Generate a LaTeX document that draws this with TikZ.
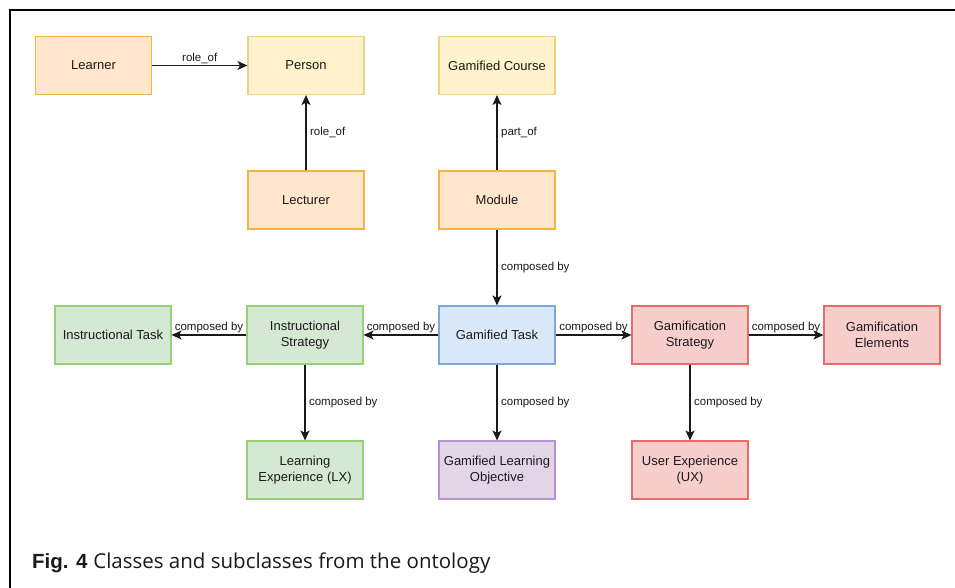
\documentclass[tikz,border=0pt]{standalone}
\usepackage{fontspec}
\setmainfont{Liberation Sans}
\newfontfamily\capfont{Open Sans}
\usetikzlibrary{arrows.meta}

\definecolor{orfill}{HTML}{FFE6CC}
\definecolor{ordraw}{HTML}{F2B443}
\definecolor{yefill}{HTML}{FFF2CC}
\definecolor{yedraw}{HTML}{F0D184}
\definecolor{grfill}{HTML}{D5E8D4}
\definecolor{grdraw}{HTML}{97D077}
\definecolor{blfill}{HTML}{DAE8FC}
\definecolor{bldraw}{HTML}{7EA6E0}
\definecolor{pufill}{HTML}{E1D5E7}
\definecolor{pudraw}{HTML}{B993D0}
\definecolor{refill}{HTML}{F8CECC}
\definecolor{redraw}{HTML}{EA6B66}
\definecolor{ink}{HTML}{1A1A1A}

\tikzset{
  cls/.style={rectangle, minimum width=116pt, minimum height=58pt,
    line width=1.1pt, align=center, text=ink,
    font=\fontsize{13}{15.5}\selectfont, inner sep=2pt},
  orangebox/.style={cls, fill=orfill, draw=ordraw},
  yellowbox/.style={cls, fill=yefill, draw=yedraw},
  greenbox/.style={cls, fill=grfill, draw=grdraw},
  bluebox/.style={cls, fill=blfill, draw=bldraw},
  purplebox/.style={cls, fill=pufill, draw=pudraw},
  redbox/.style={cls, fill=refill, draw=redraw},
  rel/.style={draw=ink, line width=1.2pt, -{Stealth[length=10pt,width=9pt,inset=2.5pt]}},
  lbl/.style={font=\fontsize{11.5}{13.5}\selectfont, text=ink, inner sep=1.5pt},
  hlbl/.style={lbl, midway, above},
  vlbl/.style={lbl, midway, right, xshift=2pt},
}

\begin{document}
\begin{tikzpicture}[x=1pt, y=-1pt]
  \useasboundingbox (0,0) rectangle (955,588);
  \fill[white] (0,0) rectangle (955,588);

  % frame lines along the top and left edges
  \draw[line width=2pt, black] (10,588) -- (10,10) -- (955,10);

  % classes
  \node[orangebox] (learner)  at (93.5,65.5) {Learner};
  \node[yellowbox] (person)   at (306,65.5)  {Person};
  \node[yellowbox] (course)   at (497,65.5)  {Gamified Course};
  \node[orangebox] (lecturer) at (306,200)   {Lecturer};
  \node[orangebox] (module)   at (497,200)   {Module};

  \node[greenbox]  (itask)    at (113,335)   {Instructional Task};
  \node[greenbox]  (istrat)   at (305,335)   {Instructional\\Strategy};
  \node[bluebox]   (gtask)    at (497,335)   {Gamified Task};
  \node[redbox]    (gstrat)   at (690,335)   {Gamification\\Strategy};
  \node[redbox]    (gelem)    at (882,335)   {Gamification\\Elements};

  \node[greenbox]  (lx)       at (305,470)   {Learning\\Experience (LX)};
  \node[purplebox] (glo)      at (497,470)   {Gamified Learning\\Objective};
  \node[redbox]    (ux)       at (690,470)   {User Experience\\(UX)};

  % relations
  \draw[rel] (learner) -- node[hlbl] {role\_of} (person);
  \draw[rel] (lecturer) -- node[vlbl] {role\_of} (person);
  \draw[rel] (module) -- node[vlbl] {part\_of} (course);
  \draw[rel] (module) -- node[vlbl] {composed by} (gtask);

  \draw[rel] (istrat) -- node[hlbl] {composed by} (itask);
  \draw[rel] (gtask) -- node[hlbl] {composed by} (istrat);
  \draw[rel] (gtask) -- node[hlbl] {composed by} (gstrat);
  \draw[rel] (gstrat) -- node[hlbl] {composed by} (gelem);

  \draw[rel] (istrat) -- node[vlbl] {composed by} (lx);
  \draw[rel] (gtask) -- node[vlbl] {composed by} (glo);
  \draw[rel] (gstrat) -- node[vlbl] {composed by} (ux);

  % caption
  \node[anchor=base west, inner sep=0pt, text=ink] (caption) at (32,568)
    {\fontsize{20.5}{24}\selectfont\textbf{Fig. 4} {\capfont Classes and subclasses from the ontology}};
\end{tikzpicture}
\end{document}
